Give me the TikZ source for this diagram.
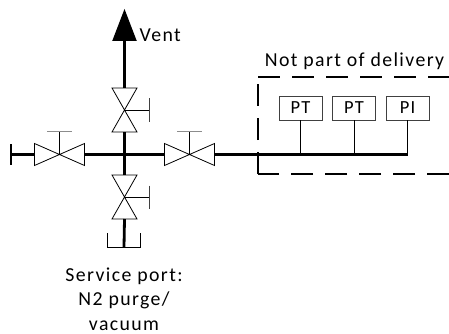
\documentclass[tikz,border=0pt]{standalone}
\usepackage{fontspec}
\setmainfont{Carlito}[LetterSpace=7]
\usetikzlibrary{calc}
\definecolor{bargray}{gray}{0.55}
\tikzset{
  x=1pt,y=-1pt,
  pipe/.style={line width=2.8pt,black},
  thinpipe/.style={line width=2.1pt,black},
  instline/.style={line width=0.9pt,black},
  valvebody/.style={draw=black,line width=0.8pt,fill=white},
  stem/.style={line width=0.8pt,black},
  inst/.style={draw=black!75,line width=0.9pt,fill=white,minimum width=43pt,minimum height=24pt,inner sep=0pt,font=\fontsize{18.5}{20}\selectfont},
  lbl/.style={inner sep=0pt,font=\fontsize{19.8}{24.5}\selectfont,align=center},
  limit/.style={line width=2.2pt,black,dash pattern=on 22pt off 12pt},
  hvalve/.pic={
    \draw[valvebody] (-25,-11) -- (25,11) -- (25,-11) -- (-25,11) -- cycle;
    \draw[stem] (0,0) -- (0,-23);
    \draw[line width=1.1pt,bargray] (-12.5,-23) -- (12.5,-23);
    \coordinate (-w) at (-25,0);
    \coordinate (-e) at (25,0);
  },
  vvalve/.pic={
    \draw[valvebody] (-12.5,-22) -- (12.5,22) -- (-12.5,22) -- (12.5,-22) -- cycle;
    \draw[stem] (0,0) -- (25,0);
    \draw[line width=1.1pt,black!75] (25,-11.5) -- (25,11.5);
    \coordinate (-n) at (0,-22);
    \coordinate (-s) at (0,22);
  }
}
\begin{document}
\begin{tikzpicture}
\useasboundingbox (0,0) rectangle (449,334);
% valves
\pic (vtop) at (124.5,110) {vvalve};
\pic (vbot) at (124.5,197) {vvalve};
\pic (vleft) at (59.5,154.5) {hvalve};
\pic (vright) at (189.5,154.5) {hvalve};
% points
\coordinate (tee) at (124.5,154.5);
\coordinate (ventbase) at (124.5,41);
\coordinate (venttip) at (124.5,9);
\coordinate (capend) at (11,154.5);
\coordinate (capt) at (11,144);
\coordinate (capb) at (11,165);
\coordinate (cupbase) at (124,247);
\coordinate (cuptl) at (107.5,233);
\coordinate (cupbl) at (107.5,247);
\coordinate (cupbr) at (140,247);
\coordinate (cuptr) at (140,233);
\coordinate (busend) at (408,154.5);
\coordinate (bl) at (258,174);
\coordinate (tl) at (258,77);
\coordinate (tr) at (449,77);
\coordinate (br) at (449,174);
% instruments
\node[inst] (pt1) at (300.5,108) {PT};
\node[inst] (pt2) at (354,108) {PT};
\node[inst] (pi1) at (407.5,108) {PI};
% pipes
\draw[pipe] (vtop-n) -- (ventbase);
\fill[black] (venttip) -- (136.8,41) -- (112.2,41) -- cycle;
\draw[pipe] (vtop-s) -- (vbot-n);
\draw[pipe] (vbot-s) -- (cupbase);
\draw[pipe] (vleft-w) -- (capend);
\draw[pipe] (capt) -- (capb);
\draw[pipe] (vleft-e) -- (vright-w);
\draw[thinpipe] (vright-e) -- (busend);
\draw[instline] (cuptl) -- (cupbl) -- (cupbr) -- (cuptr);
% instrument stems
\draw[instline] (pt1.south) -- (pt1.south |- busend);
\draw[instline] (pt2.south) -- (pt2.south |- busend);
\draw[instline] (pi1.south) -- (pi1.south |- busend);
% delivery limit
\draw[limit] (br) -- (bl);
\draw[limit] (bl) -- (tl);
\draw[limit] (tl) -- (tr);
% labels
\node[lbl,anchor=west] (vent) at (139.5,35) {Vent};
\node[lbl] (notpart) at (354.5,61) {Not part of delivery};
\node[lbl,anchor=north] (service) at (124,267.5) {Service port:\\N2 purge/\\vacuum};
\end{tikzpicture}
\end{document}
